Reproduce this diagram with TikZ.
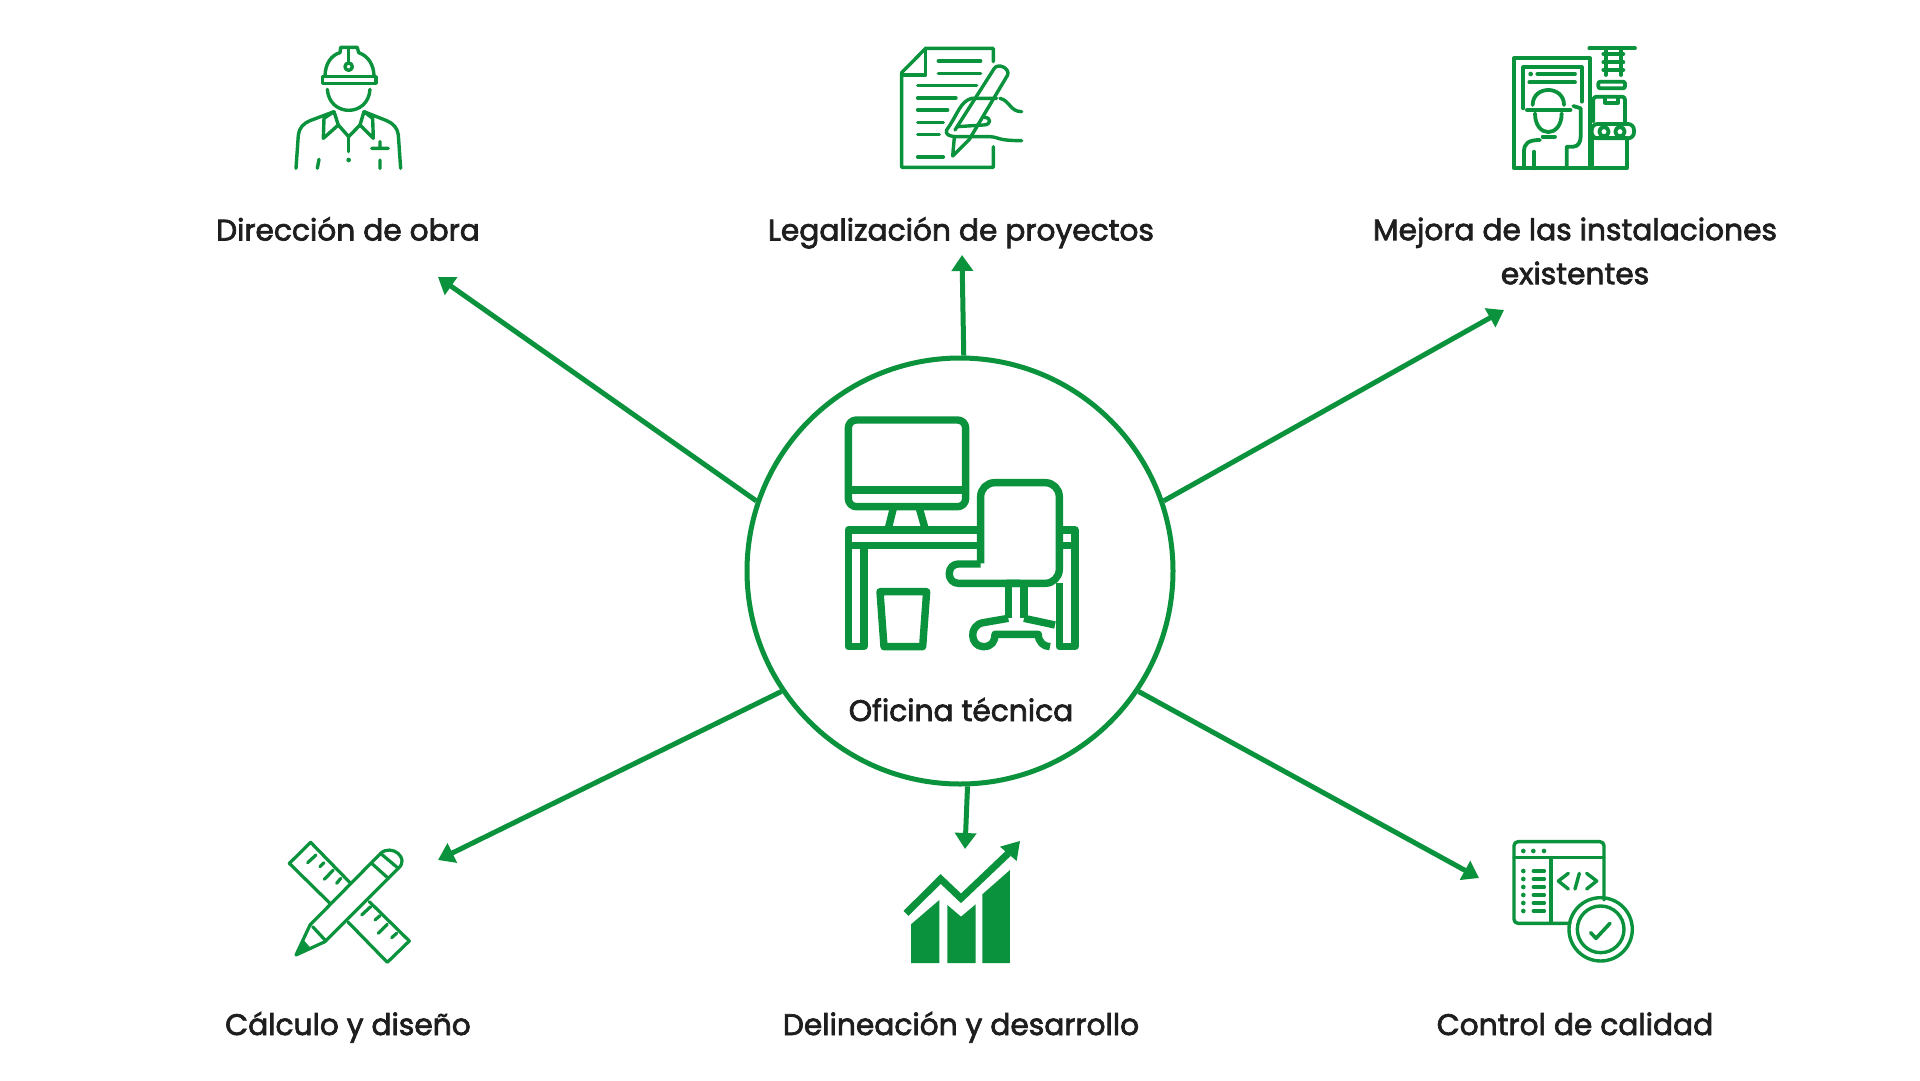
\documentclass[tikz,border=0pt]{standalone}
\usepackage{fontspec}
\setmainfont{Poppins}[FakeBold=2.4]
\usetikzlibrary{arrows.meta}
\definecolor{gr}{RGB}{11,146,60}
\definecolor{ink}{RGB}{30,30,30}
\tikzset{
 lab/.style={text=ink,font=\fontsize{29.7}{44}\selectfont,align=center,inner sep=0pt,anchor=base},
 conn/.style={draw=gr,line width=5pt,-{Triangle[length=16pt,width=21pt]}},
 ico/.style={draw=gr,line width=3.4pt,line cap=round,line join=round},
 ic/.style={shift={#1},x=0.3333pt,y=-0.3333pt},
}
\begin{document}
\begin{tikzpicture}[x=1pt,y=-1pt]
\useasboundingbox (0,0) rectangle (1920,1080);
\fill[white] (0,0) rectangle (1920,1080);
\node[circle,draw=gr,line width=5pt,minimum size=426pt,inner sep=0pt,fill=white] (hub) at (960,571) {};
\node[lab] (n0) at (961,721) {Oficina técnica};
\node[lab] (n1) at (348,240.5) {Dirección de obra};
\node[lab] (n2) at (961,240.5) {Legalización de proyectos};
\node[lab,anchor=center] (n3) at (1575,251) {Mejora de las instalaciones\\existentes};
\node[lab] (n4) at (348,1035) {Cálculo y diseño};
\node[lab] (n5) at (961,1035) {Delineación y desarrollo};
\node[lab] (n6) at (1575,1035) {Control de calidad};
\coordinate (e1) at (438,277);
\coordinate (e2) at (962,255);
\coordinate (e3) at (1504,310);
\coordinate (e4) at (438,860);
\coordinate (e5) at (965,849);
\coordinate (e6) at (1479,878);
\draw[conn] (hub.161) -- (e1);
\draw[conn] (hub.89.5) -- (e2);
\draw[conn] (hub.19) -- (e3);
\draw[conn] (hub.214) -- (e4);
\draw[conn] (hub.272) -- (e5);
\draw[conn] (hub.326) -- (e6);
% worker
\begin{scope}[ic={(270pt,-30pt)},ico]
\draw (158,140) rectangle (318,160);
\draw (165,140) .. controls (165,100) and (185,75) .. (210,68) -- (212,52) -- (262,52) -- (266,68) .. controls (295,78) and (312,105) .. (312,140);
\draw (236,55) -- (236,98);
\draw (236,110) circle (11);
\draw (172,178) .. controls (178,262) and (295,262) .. (300,178);
\draw (78,415) -- (85,315) .. controls (87,295) and (100,280) .. (120,272) -- (192,245);
\draw (392,415) -- (385,315) .. controls (383,295) and (370,280) .. (350,272) -- (282,245);
\draw (192,245) -- (162,265) -- (160,325) -- (205,285) -- (192,245);
\draw (282,245) -- (308,265) -- (310,325) -- (270,285) -- (282,245);
\draw (205,285) -- (236,320) -- (270,285);
\draw (236,320) -- (236,365);
\fill[gr,draw=none] (236,390) circle (7);
\draw (305,355) -- (355,355) (330,335) -- (330,355) (330,390) -- (330,415) (147,388) -- (142,415);
\end{scope}
% document
\begin{scope}[ic={(880pt,-30pt)},ico]
\draw (340,95) -- (340,55) -- (137,55) -- (65,128) -- (65,412) -- (340,412) -- (340,350);
\draw (137,55) -- (137,135) -- (65,135);
\foreach \a/\b/\c in {175/302/93,175/302/130,113/290/167,113/228/204,113/203/240,113/190/277,113/178/314,113/190/381}
 \draw (\a,\c) -- (\b,\c);
\draw (225,300) -- (343,115) .. controls (355,98) and (390,115) .. (383,135) -- (268,328) -- (218,378) -- (223,322);
\draw (360,205) .. controls (390,212) and (390,245) .. (425,245);
\draw (350,205) -- (275,205) .. controls (240,215) and (235,250) .. (200,300) .. controls (195,312) and (205,320) .. (235,320) -- (330,320) .. controls (360,322) and (350,332) .. (425,332);
\draw (232,290) -- (310,285) .. controls (335,285) and (335,262) .. (312,262);
\end{scope}
% panel
\begin{scope}[ic={(1490pt,-30pt)},ico,line width=3.8pt]
\draw (72,85) rectangle (300,415);
\draw (100,235) -- (100,112) -- (275,112) -- (275,215);
\fill[gr,draw=none] (122,132) circle (7);
\draw (142,132) -- (255,132) (118,157) -- (255,157);
\draw (128,225) .. controls (128,165) and (222,165) .. (222,225);
\draw[line width=4.8pt] (112,240) -- (240,240);
\draw (135,250) .. controls (135,325) and (215,325) .. (215,250);
\draw (158,320) -- (195,320);
\draw (102,415) -- (102,365) .. controls (102,340) and (115,330) .. (150,330);
\draw (132,415) -- (132,365);
\draw (230,415) -- (230,350) -- (250,350) .. controls (265,350) and (272,335) .. (272,320) -- (272,235) -- (250,228);
\draw (298,55) -- (435,55);
\draw (347,60) -- (347,135) (393,60) -- (393,135);
\foreach \c in {72,97,120} \draw (340,\c) -- (400,\c);
\draw[rounded corners=2pt] (325,155) rectangle (405,175);
\draw[rounded corners=3pt] (310,275) -- (310,200) -- (405,200) -- (405,275);
\draw (345,203) -- (345,218) -- (385,218) -- (385,203);
\draw[rounded corners=6pt] (305,282) rectangle (432,325);
\draw (342,305) circle (14) (390,305) circle (14);
\draw (305,325) rectangle (410,415);
\end{scope}
% ruler and pencil
\begin{scope}[ic={(270pt,-825pt)},ico,line width=3.2pt]
\draw (242,175) -- (122,52) -- (58,115) -- (180,235);
\draw (298,230) -- (418,348) -- (352,412) -- (235,292);
\foreach \a/\b/\c/\d in {113/113/138/90,150/125/162/113,163/163/190/135,200/175/212/160,275/270/302/245,315/285/330/272,325/325/352/298,365/338/380/325}
 \draw (\a,\b) -- (\c,\d);
\draw (120,300) -- (332,85) .. controls (365,55) and (420,100) .. (385,130) -- (165,350) -- (78,390) -- cycle;
\draw (305,115) -- (355,160) (335,88) -- (385,130);
\draw (128,305) -- (165,345);
\fill[gr,draw=gr,line width=1.3pt] (78,390) -- (98,345) -- (122,372) -- cycle;
\end{scope}
% chart
\begin{scope}[ic={(880pt,-825pt)}]
\fill[gr] (93,298) -- (178,225) -- (178,414) -- (93,414) -- cycle;
\fill[gr] (202,240) -- (243,275) -- (287,238) -- (287,414) -- (202,414) -- cycle;
\fill[gr] (307,208) -- (390,135) -- (390,414) -- (307,414) -- cycle;
\draw[draw=gr,line width=7pt,miter limit=10] (78,265) -- (182,162) -- (243,220) -- (385,85);
\fill[gr] (360,65) -- (420,48) -- (410,108) -- cycle;
\end{scope}
% code window
\begin{scope}[ic={(1490pt,-825pt)},ico]
\draw[rounded corners=4pt] (240,295) -- (72,295) -- (72,50) -- (342,50) -- (342,225);
\draw (72,98) -- (342,98);
\foreach \a in {100,130,162} \fill[gr,draw=none] (\a,78) circle (7);
\draw (183,98) -- (183,295);
\foreach \c in {138,162,186,210,234,258} {
 \fill[gr,draw=none] (100,\c) circle (7);
 \draw (130,\c) -- (163,\c);
}
\draw (235,145) -- (205,168) -- (235,192);
\draw (268,145) -- (255,192);
\draw (290,145) -- (320,168) -- (290,192);
\draw (332,313) circle (95) (332,313) circle (70);
\draw[line width=3.6pt] (302,323) -- (318,340) -- (360,295);
\end{scope}
% desk
\begin{scope}[ic={(820pt,-400pt)},draw=gr,line width=7.4pt,line join=round]
\draw[rounded corners=8pt] (85,60) rectangle (437,320);
\draw (85,270) -- (437,270);
\draw (220,325) -- (205,385) (298,325) -- (315,385);
\draw (470,390) -- (85,390) -- (85,740) -- (132,740) -- (132,437);
\draw (85,437) -- (470,437);
\draw (725,390) -- (765,390) -- (765,740) -- (718,740) -- (718,550);
\draw (725,437) -- (765,437);
\draw[rounded corners=14pt] (482,490) -- (482,248) -- (718,248) -- (718,550) -- (560,550);
\draw[rounded corners=9pt] (600,550) -- (388,550) -- (388,492) -- (482,492);
\draw (565,555) -- (565,655) (612,555) -- (612,655);
\draw (565,655) -- (490,668) .. controls (445,675) and (450,740) .. (490,740) .. controls (515,740) and (525,725) .. (525,703) -- (655,703) .. controls (655,725) and (670,740) .. (690,740);
\draw (612,655) -- (705,675);
\draw (180,575) -- (320,575) -- (308,740) -- (192,740) -- cycle;
\end{scope}
\end{tikzpicture}
\end{document}
